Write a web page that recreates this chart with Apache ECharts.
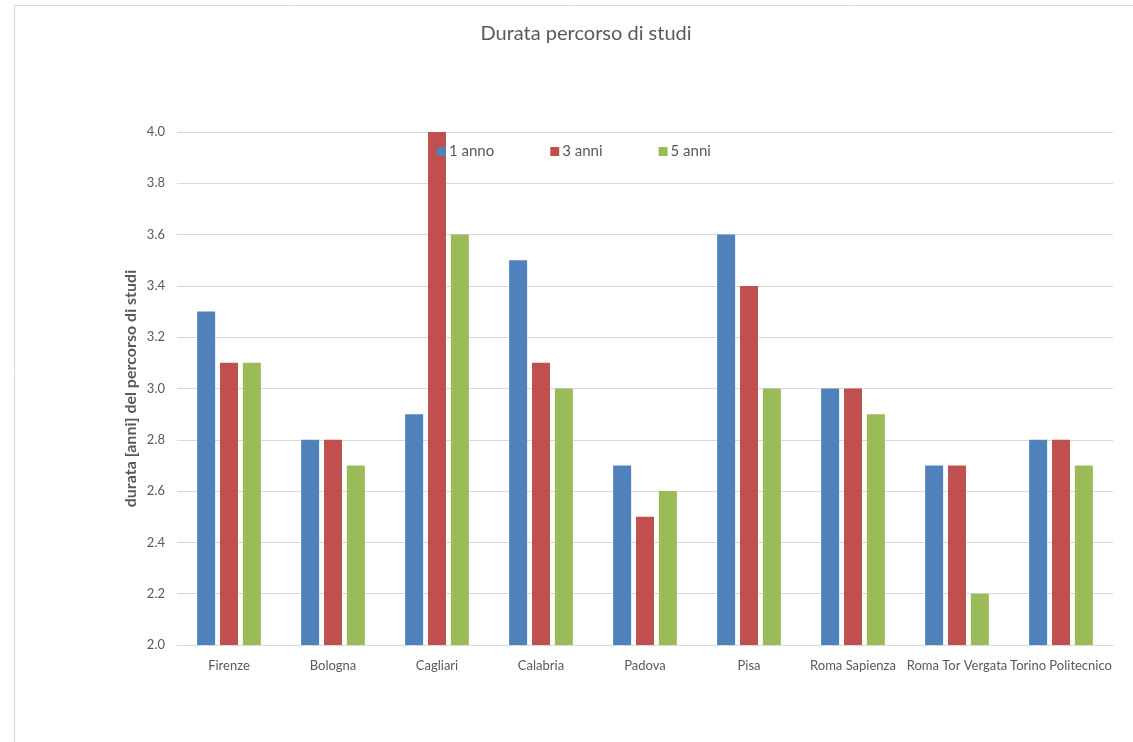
<!DOCTYPE html>
<html><head><meta charset="utf-8">
<script src="https://cdn.jsdelivr.net/npm/echarts@6/dist/echarts.min.js"></script>
<style>html,body{margin:0;padding:0;background:#fff}#c{width:1133px;height:742px}</style>
</head><body><div id="c"></div>
<script>
const categories = ['Firenze','Bologna','Cagliari','Calabria','Padova','Pisa','Roma Sapienza','Roma Tor Vergata','Torino Politecnico'];
const seriesNames = ['1 anno','3 anni','5 anni'];
const anno1 = [3.3, 2.8, 2.9, 3.5, 2.7, 3.6, 3.0, 2.7, 2.8];
const anni3 = [3.1, 2.8, 4.0, 3.1, 2.5, 3.4, 3.0, 2.7, 2.8];
const anni5 = [3.1, 2.7, 3.6, 3.0, 2.6, 3.0, 2.9, 2.2, 2.7];
const colors = ['#4F81BD','#C0504D','#9BBB59'];
const font = 'Lato, "Open Sans", sans-serif';
const chart = echarts.init(document.getElementById('c'));
const mk = (name, data, i) => ({
  name, type:'bar', data, barWidth:18, barGap:'27%',
  itemStyle:{color:colors[i]}
});
chart.setOption({
  animation:false,
  textStyle:{fontFamily:font},
  graphic:[{type:'rect', shape:{x:14.5,y:5.5,width:1130,height:750}, style:{fill:'none',stroke:'#d9d9d9',lineWidth:1}, z:-1}],
  title:{text:'Durata percorso di studi', left:581, top:19, textAlign:'center',
    textStyle:{fontFamily:font, fontSize:20, fontWeight:'normal', color:'#595959'}},
  legend:{data:seriesNames, left:432, top:139, itemWidth:9, itemHeight:9, itemGap:56, icon:'rect',
    textStyle:{fontFamily:font, fontSize:15, color:'#595959', padding:[0,0,0,-2]}},
  grid:{left:177, right:20, top:132, bottom:97, containLabel:false},
  xAxis:{type:'category', data:categories,
    axisLine:{lineStyle:{color:'#d9d9d9', width:1}}, axisTick:{show:false},
    axisLabel:{color:'#595959', fontSize:13, margin:14, interval:0, fontFamily:font}},
  yAxis:{type:'value', min:2.0, max:4.0, interval:0.2,
    name:'durata [anni] del percorso di studi', nameLocation:'middle', nameGap:38, nameMoveOverlap:false,
    nameTextStyle:{color:'#595959', fontSize:16, fontWeight:'bold', fontFamily:font},
    axisLabel:{color:'#595959', fontSize:13, margin:12, formatter:v=>v.toFixed(1), fontFamily:font},
    axisLine:{show:false}, axisTick:{show:false},
    splitLine:{lineStyle:{color:'#d9d9d9', width:1}}},
  series:[mk(seriesNames[0],anno1,0), mk(seriesNames[1],anni3,1), mk(seriesNames[2],anni5,2)]
});
</script></body></html>
